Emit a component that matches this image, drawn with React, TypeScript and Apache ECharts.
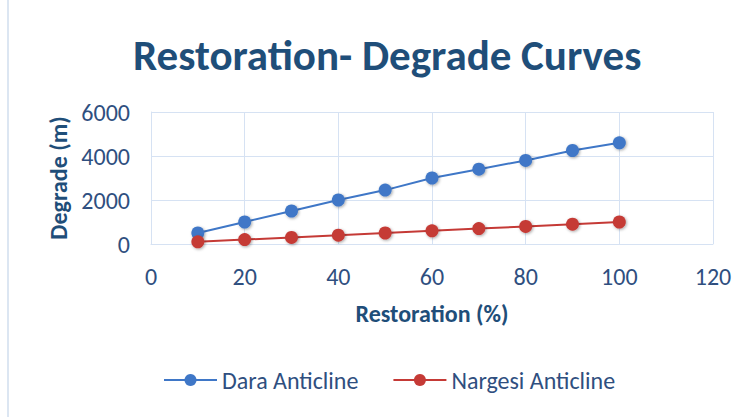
import React, { useEffect, useRef } from "react";
import * as echarts from "echarts";

const restoration = [10, 20, 30, 40, 50, 60, 70, 80, 90, 100];
const daraAnticline = [500, 1000, 1500, 2000, 2450, 3000, 3400, 3800, 4250, 4600];
const nargesiAnticline = [100, 200, 300, 400, 500, 600, 700, 800, 900, 1000];

const textColor = "#2F4F7F";
const blue = "#3F77C7";
const red = "#C53A36";
const font = "Carlito, 'Open Sans'";

export default function App() {
  const ref = useRef<HTMLDivElement>(null);
  useEffect(() => {
    const chart = echarts.init(ref.current!, null, { renderer: "svg" });
    const mk = (name: string, ys: number[], color: string) => ({
      name,
      type: "line",
      data: restoration.map((x, i) => [x, ys[i]]),
      symbol: "circle",
      symbolSize: 13,
      lineStyle: { color, width: 2 },
      itemStyle: { color, shadowColor: "rgba(0,0,0,0.35)", shadowBlur: 3, shadowOffsetX: 1, shadowOffsetY: 1 },
    });
    chart.setOption({
      animation: false,
      backgroundColor: "#ffffff",
      title: {
        text: "Restoration- Degrade Curves",
        left: 128,
        top: 29,
        textStyle: { fontFamily: font, fontWeight: "bold", fontSize: 43, color: "#1F4E79" },
      },
      grid: { left: 151, right: 36, top: 112, bottom: 173, containLabel: false },
      xAxis: {
        type: "value",
        min: 0,
        max: 120,
        interval: 20,
        name: "Restoration (%)",
        nameLocation: "middle",
        nameGap: 57,
        nameTextStyle: { fontFamily: font, fontWeight: "bold", fontSize: 24, color: "#1F4E79" },
        axisLine: { show: true, lineStyle: { color: "#D6E2F3" } },
        axisTick: { show: false },
        axisLabel: { fontFamily: font, fontSize: 24, color: textColor, margin: 20 },
        splitLine: { show: true, lineStyle: { color: "#D6E2F3" } },
      },
      yAxis: {
        type: "value",
        min: 0,
        max: 6000,
        interval: 2000,
        name: "Degrade (m)",
        nameLocation: "middle",
        nameGap: 80,
        nameTextStyle: { fontFamily: font, fontWeight: "bold", fontSize: 24, color: "#1F4E79" },
        axisLine: { show: true, lineStyle: { color: "#D6E2F3" } },
        axisTick: { show: false },
        axisLabel: { fontFamily: font, fontSize: 24, color: textColor, margin: 21, formatter: (v: number) => String(v) },
        splitLine: { show: true, lineStyle: { color: "#D6E2F3" } },
      },
      legend: {
        bottom: 20,
        left: 158,
        itemGap: 34,
        itemWidth: 53,
        itemHeight: 15,
        textStyle: { fontFamily: font, fontSize: 24, color: textColor },
        data: ["Dara Anticline", "Nargesi Anticline"],
      },
      graphic: [
        { type: "rect", shape: { x: 7, y: 0, width: 2, height: 417 }, style: { fill: "#DCE6F2" } },
      ],
      series: [mk("Dara Anticline", daraAnticline, blue), mk("Nargesi Anticline", nargesiAnticline, red)],
    });
    return () => chart.dispose();
  }, []);
  return <div ref={ref} style={{ width: 749, height: 417, position: "absolute", left: 0, top: 0 }} />;
}
